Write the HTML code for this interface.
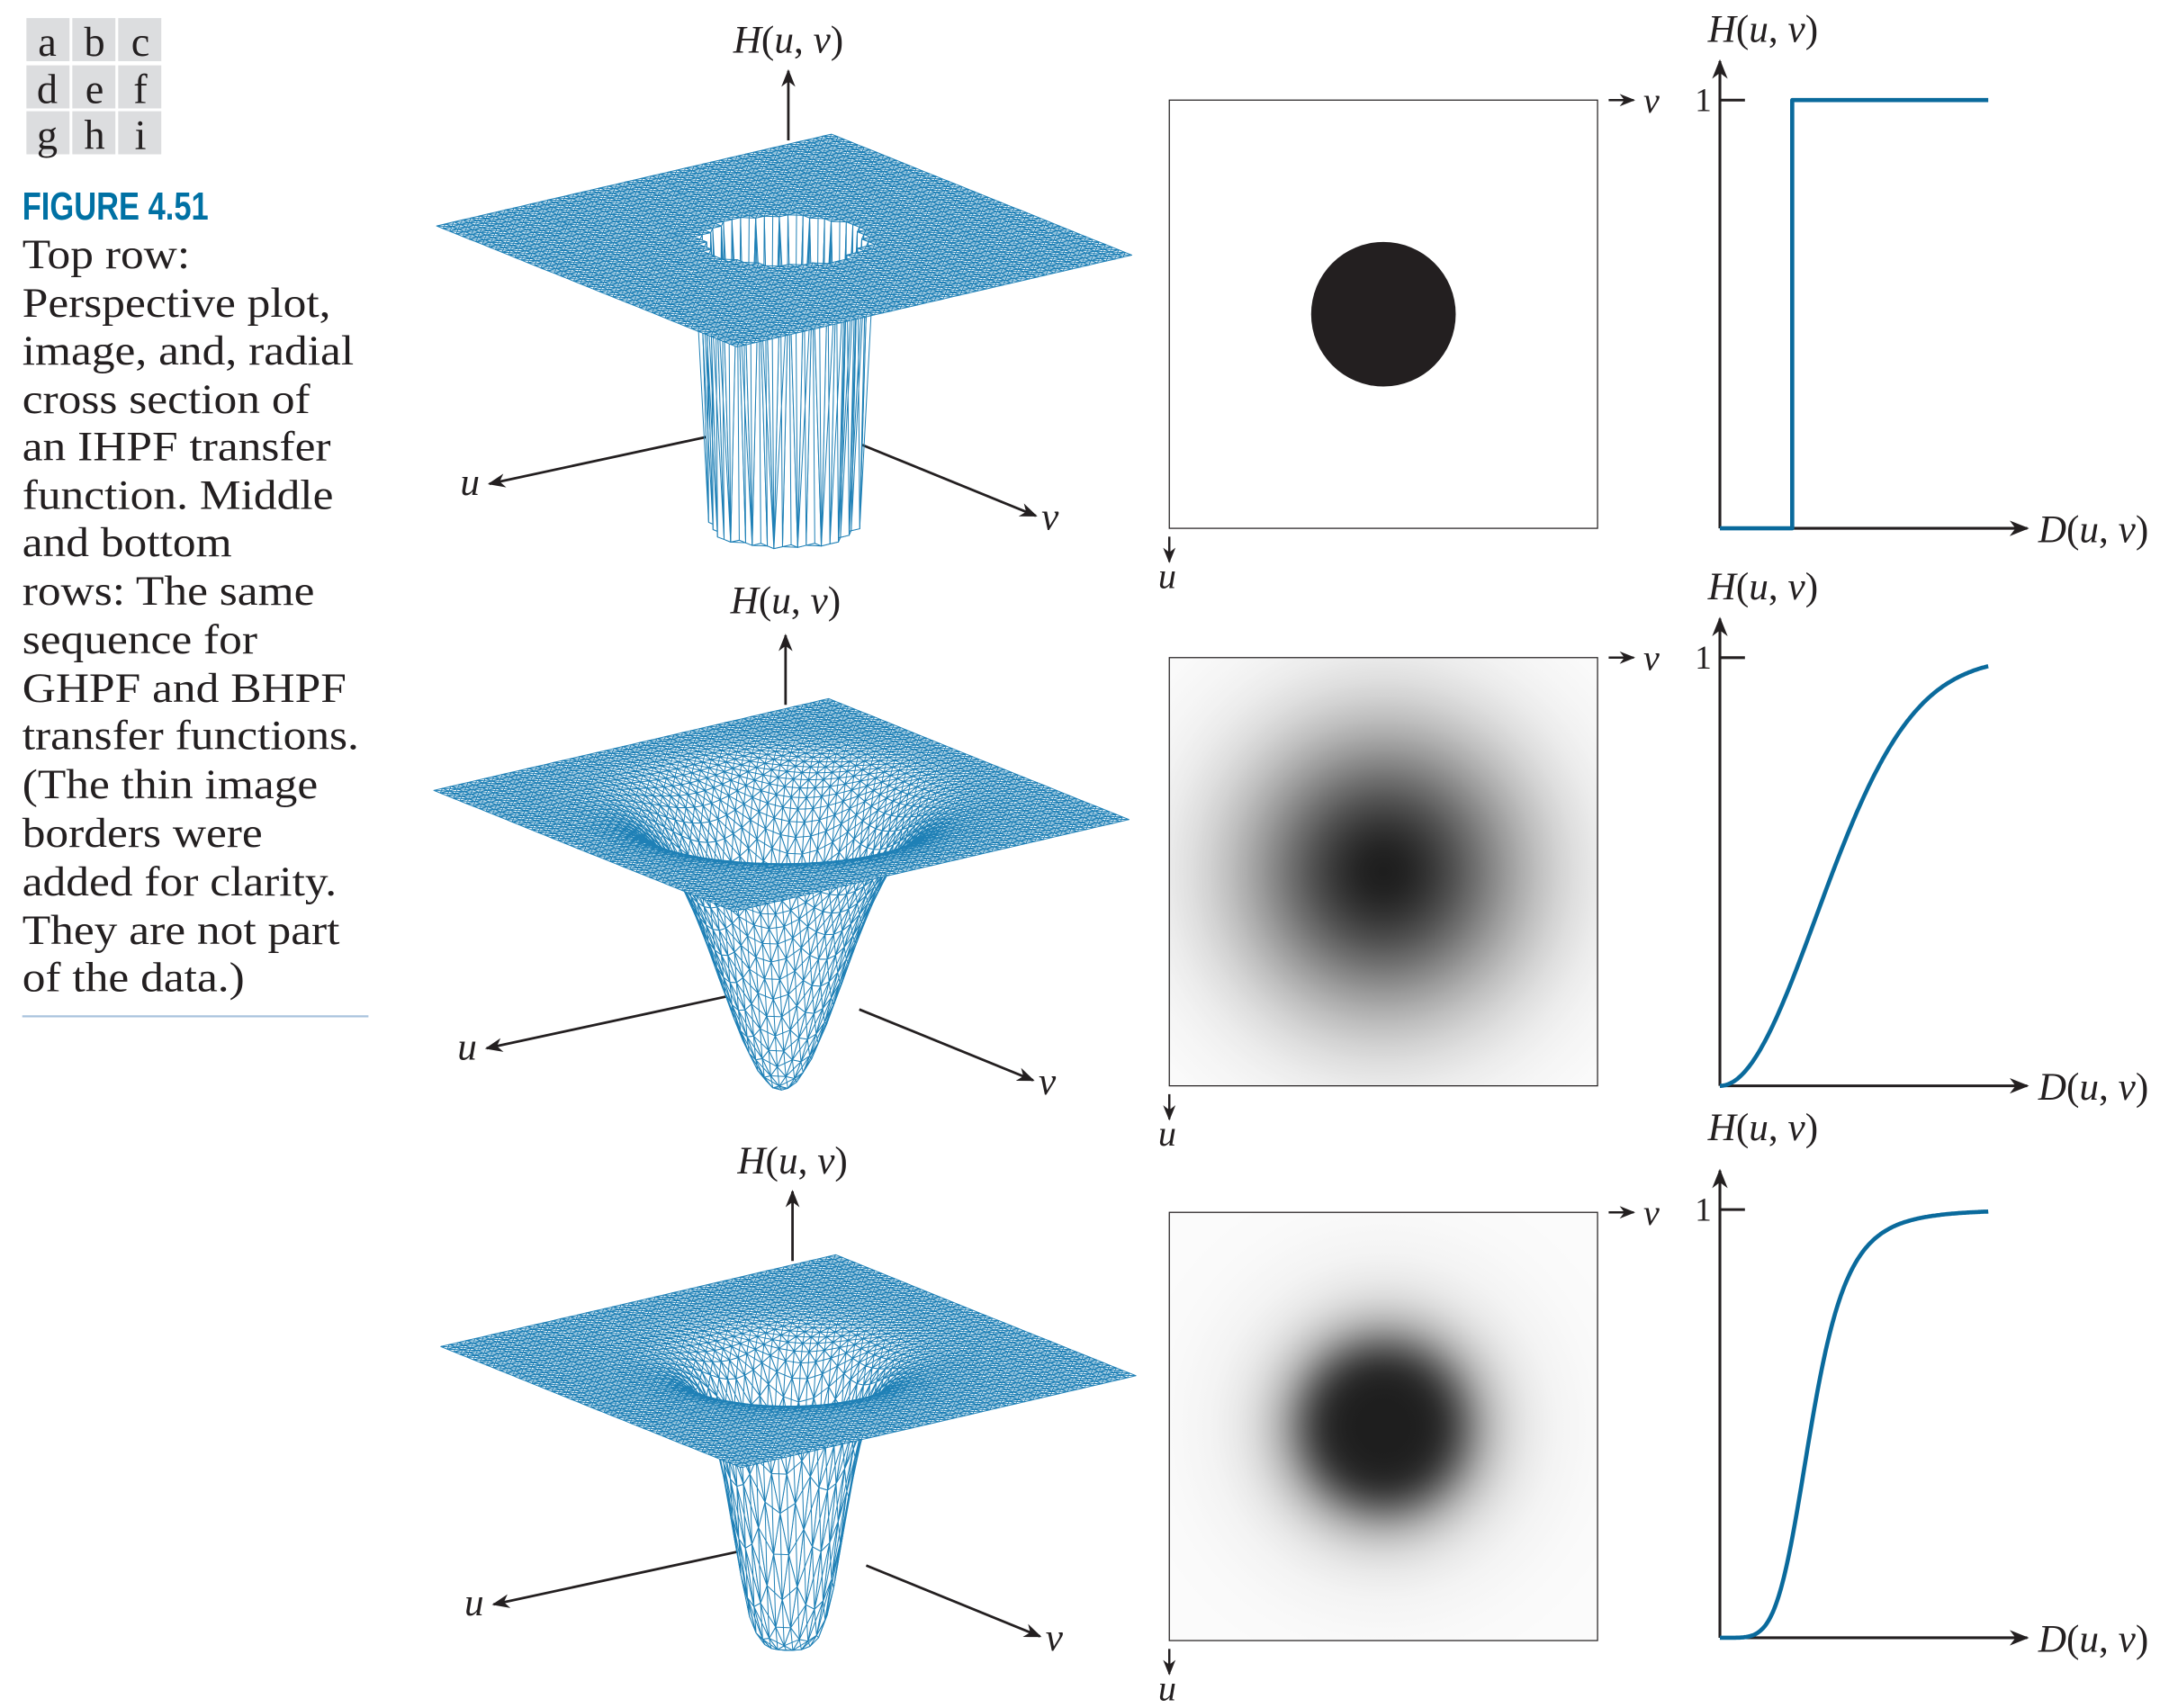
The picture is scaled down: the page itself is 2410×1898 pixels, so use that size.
<!DOCTYPE html>
<html><head><meta charset="utf-8"><style>
html,body{margin:0;padding:0;background:#fff;}
svg{display:block;}
text{font-family:"Liberation Serif",serif;fill:#231f20;}
.it{font-style:italic;}
</style></head><body>
<svg id="fig" width="2410" height="1898" viewBox="0 0 1560 1228.5" preserveAspectRatio="none" xmlns="http://www.w3.org/2000/svg">
<defs>
<marker id="ar" viewBox="0 0 10 10" refX="9" refY="5" markerWidth="7" markerHeight="7" orient="auto-start-reverse"><path d="M0,1 L10,5 L0,9 L3,5 Z" fill="#231f20"/></marker>
</defs>
<g font-size="30">
<rect x="19" y="13" width="31" height="31" fill="#dcdddf"/><rect x="52" y="13" width="31" height="31" fill="#dcdddf"/><rect x="85" y="13" width="31" height="31" fill="#dcdddf"/>
<rect x="19" y="47" width="31" height="31" fill="#dcdddf"/><rect x="52" y="47" width="31" height="31" fill="#dcdddf"/><rect x="85" y="47" width="31" height="31" fill="#dcdddf"/>
<rect x="19" y="80" width="31" height="31" fill="#dcdddf"/><rect x="52" y="80" width="31" height="31" fill="#dcdddf"/><rect x="85" y="80" width="31" height="31" fill="#dcdddf"/>
<text x="34" y="40" text-anchor="middle">a</text><text x="68" y="40" text-anchor="middle">b</text><text x="101" y="40" text-anchor="middle">c</text>
<text x="34" y="74" text-anchor="middle">d</text><text x="68" y="74" text-anchor="middle">e</text><text x="101" y="74" text-anchor="middle">f</text>
<text x="34" y="107" text-anchor="middle">g</text><text x="68" y="107" text-anchor="middle">h</text><text x="101" y="107" text-anchor="middle">i</text>
</g>
<text x="16" y="158" font-weight="bold" font-size="28" style="fill:#0071a4;font-family:'Liberation Sans Narrow','Liberation Sans',sans-serif" textLength="134" lengthAdjust="spacingAndGlyphs">FIGURE 4.51</text>
<g font-size="30" transform="translate(16,0) scale(1.11,1) translate(-16,0)">
<text x="16" y="193">Top row:</text>
<text x="16" y="228">Perspective plot,</text>
<text x="16" y="262">image, and, radial</text>
<text x="16" y="297">cross section of</text>
<text x="16" y="331">an IHPF transfer</text>
<text x="16" y="366">function. Middle</text>
<text x="16" y="400">and bottom</text>
<text x="16" y="435">rows: The same</text>
<text x="16" y="470">sequence for</text>
<text x="16" y="505">GHPF and BHPF</text>
<text x="16" y="539">transfer functions.</text>
<text x="16" y="574">(The thin image</text>
<text x="16" y="609">borders were</text>
<text x="16" y="644">added for clarity.</text>
<text x="16" y="679">They are not part</text>
<text x="16" y="713">of the data.)</text>
</g>
<line x1="16" y1="731" x2="265" y2="731" stroke="#a9c3dd" stroke-width="1.5"/>
<g id="surfaces"></g>
<g id="images"></g>
<g id="curves"></g>
</svg>
<script>
// Filter parameters (data)
const filterNames = ['ihpf','ghpf','bhpf'];
const cutoffPx = [52, 69, 66];        // D0 in image pixels (step cutoff / gaussian sigma / butterworth D0)
const bOrder = [0, 0, 2.5];           // butterworth order
const meshCutoff = [0.31, 0.25, 0.24]; // D0 in mesh units for perspective plots
const dMax = 193;                     // max D shown on cross-section axis
const NS='http://www.w3.org/2000/svg';
function el(tag, attrs, parent){const e=document.createElementNS(NS,tag);for(const k in attrs)e.setAttribute(k,attrs[k]);parent.appendChild(e);return e;}
function Hf(i,d,D0){
  if(i===0) return d<=D0?0:1;
  if(i===1) return 1-Math.exp(-d*d/(2*D0*D0));
  if(d===0) return 0;
  return 1/(1+Math.pow(D0/d,2*bOrder[i]));
}
function H(i,d){return Hf(i,d,cutoffPx[i]);}
const rowDy=[0,401,800];
const surfDx=[0,-2,3], surfDy=[0,406,806];
const surfG=document.getElementById('surfaces');
const imgG=document.getElementById('images');
const crvG=document.getElementById('curves');
for(let r=0;r<3;r++){
  const g=el('g',{},surfG);
  
  
  const Ox=564+surfDx[r], Oy=173+surfDy[r];
  const U=[-142,33], V=[108,43.5], Z=205;
  const P=(u,v)=>{const h=Hf(r,Math.hypot(u,v),meshCutoff[r]);return [Ox+u*U[0]+v*V[0], Oy+u*U[1]+v*V[1]+(1-h)*Z];};
  const ax=el('g',{},g);
  
  
  el('line',{x1:Ox+3,y1:Oy-72,x2:Ox+3,y2:Oy-122,stroke:'#231f20','stroke-width':1.8,'marker-end':'url(#ar)'},ax);
  el('line',{x1:Ox-36,y1:Oy+137,x2:Ox-212,y2:Oy+175,stroke:'#231f20','stroke-width':1.8,'marker-end':'url(#ar)'},ax);
  el('line',{x1:Ox+56,y1:Oy+147,x2:Ox+181,y2:Oy+198,stroke:'#231f20','stroke-width':1.8,'marker-end':'url(#ar)'},ax);
  const N=46; const cells=[];
  for(let a=0;a<N;a++)for(let b=0;b<N;b++){const u0=-1+2*a/N,u1=-1+2*(a+1)/N,v0=-1+2*b/N,v1=-1+2*(b+1)/N;cells.push([u0,u1,v0,v1,(u0+u1+v0+v1)]);}
  cells.sort((p,q)=>p[4]-q[4]);
  const mesh=el('g',{fill:'#fff',stroke:'#1f80b6','stroke-width':0.65,'stroke-linejoin':'round'},g);
  
  
  const f=x=>x[0].toFixed(1)+','+x[1].toFixed(1);
  for(const c of cells){
    const A=P(c[0],c[2]),B=P(c[1],c[2]),C=P(c[1],c[3]),D=P(c[0],c[3]);
    el('path',{d:'M'+f(A)+'L'+f(B)+'L'+f(C)+'L'+f(D)+'ZM'+f(A)+'L'+f(C)+'M'+f(B)+'L'+f(D)},mesh);
  }
  const hl=el('text',{x:Ox+3,y:Oy-135+(r==1?-3:0),'text-anchor':'middle','font-size':28,class:'it'},g);
  
  
  hl.innerHTML='H<tspan font-style="normal">(</tspan>u<tspan font-style="normal">,</tspan> v<tspan font-style="normal">)</tspan>';
  const ul=el('text',{x:Ox-233,y:Oy+183,'font-size':28,class:'it'},g); ul.textContent='u';
  
  
  const vl=el('text',{x:Ox+185,y:Oy+208,'font-size':28,class:'it'},g); vl.textContent='v';
  
  

  const ig=el('g',{},imgG);
  
  
  const bx=841, by=72+rowDy[r], bs=308, cx=bx+bs/2, cy=by+bs/2;
  if(r===0){
    el('rect',{x:bx,y:by,width:bs,height:bs,fill:'#fff'},ig);
    const c=el('circle',{cx:cx,cy:cy,r:cutoffPx[0],fill:'#231f20'},ig);
    
    
  } else {
    const gid='rg'+r; const defs=el('defs',{},ig);
    const rg=el('radialGradient',{id:gid,cx:cx,cy:cy,r:220,gradientUnits:'userSpaceOnUse'},defs);
    for(let k=0;k<=40;k++){const t=k/40;const h=H(r,t*220);const v=Math.round(30+(252-30)*h);
      el('stop',{offset:t,'stop-color':'rgb('+v+','+v+','+v+')'},rg);}
    el('rect',{x:bx,y:by,width:bs,height:bs,fill:'url(#'+gid+')'},ig);
  }
  el('rect',{x:bx,y:by,width:bs,height:bs,fill:'none',stroke:'#231f20','stroke-width':0.8},ig);
  el('line',{x1:bx+bs+8,y1:by,x2:bx+bs+26,y2:by,stroke:'#231f20','stroke-width':1.6,'marker-end':'url(#ar)'},ig);
  el('line',{x1:bx,y1:by+bs+6,x2:bx,y2:by+bs+24,stroke:'#231f20','stroke-width':1.6,'marker-end':'url(#ar)'},ig);
  const iv=el('text',{x:bx+bs+33,y:by+9,'font-size':26,class:'it'},ig); iv.textContent='v';
  
  
  const iu=el('text',{x:bx-8,y:by+bs+43,'font-size':26,class:'it'},ig); iu.textContent='u';
  
  

  const cg=el('g',{},crvG);
  
  
  const ox=1237, oy=380+rowDy[r]+(r===2?-2:0), top=oy-308;
  const xS=d=>ox+d, yS=h=>oy-h*(oy-top);
  el('line',{x1:ox,y1:oy,x2:ox,y2:oy-336,stroke:'#231f20','stroke-width':2,'marker-end':'url(#ar)'},cg);
  el('line',{x1:ox,y1:oy,x2:1458,y2:oy,stroke:'#231f20','stroke-width':2,'marker-end':'url(#ar)'},cg);
  el('line',{x1:ox,y1:top,x2:ox+18,y2:top,stroke:'#231f20','stroke-width':2},cg);
  const one=el('text',{x:ox-18,y:top+8,'font-size':24},cg); one.textContent='1';
  
  
  let pts=[];
  if(r===0){pts=[[xS(0),yS(0)],[xS(cutoffPx[0]),yS(0)],[xS(cutoffPx[0]),yS(1)],[xS(dMax),yS(1)]];}
  else for(let d=0;d<=dMax;d+=1)pts.push([xS(d),yS(H(r,d))]);
  const cp=el('polyline',{points:pts.map(p=>p[0].toFixed(1)+','+p[1].toFixed(1)).join(' '),fill:'none',stroke:'#0a6a9c','stroke-width':3,'stroke-linejoin':'round'},cg);
  
  
  const hl2=el('text',{x:1268,y:top-42-(r===2?8:0),'text-anchor':'middle','font-size':28,class:'it'},cg);
  hl2.innerHTML='H<tspan font-style="normal">(</tspan>u<tspan font-style="normal">,</tspan> v<tspan font-style="normal">)</tspan>';
  
  
  const dl=el('text',{x:1466,y:oy+10,'font-size':28,class:'it'},cg);
  dl.innerHTML='D<tspan font-style="normal">(</tspan>u<tspan font-style="normal">,</tspan> v<tspan font-style="normal">)</tspan>';
  
  
}
</script>
</body></html>
